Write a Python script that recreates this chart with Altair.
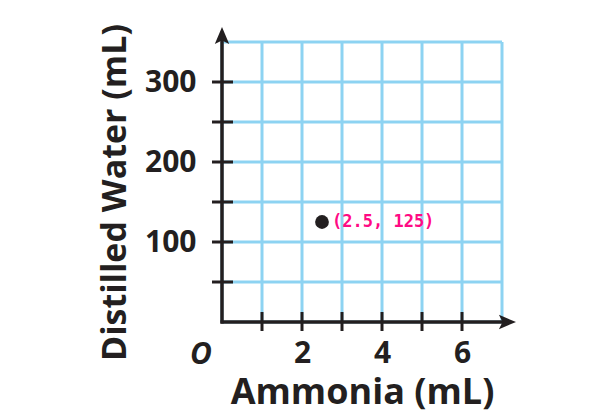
import altair as alt
import pandas as pd

# ---- data ----
grid_x = [0, 1, 2, 3, 4, 5, 6, 7]
grid_y = [0, 50, 100, 150, 200, 250, 300, 350]
tick_x = [1, 2, 3, 4, 5, 6]
tick_y = [50, 100, 150, 200, 250, 300]
label_x = [2, 4, 6]
label_y = [100, 200, 300]
point_x = [2.5]
point_y = [125]
point_label = ["(2.5, 125)"]

FONT = "Open Sans"
INK = "#231f20"
GRID = "#8dd3f2"
PINK = "#ff0a84"

xs = alt.Scale(domain=[0, 7], nice=False, zero=False)
ys = alt.Scale(domain=[0, 350], nice=False, zero=False)

x_axis = alt.Axis(
    values=label_x, grid=False, ticks=False, domain=False,
    labelFont=FONT, labelFontWeight="bold", labelFontSize=30, labelColor=INK,
    labelPadding=16, title="Ammonia (mL)", titleFont=FONT, titleFontWeight="bold",
    titleFontSize=36, titleColor=INK, titlePadding=7, labelFlush=False,
)
y_axis = alt.Axis(
    values=label_y, grid=False, ticks=False, domain=False,
    labelFont=FONT, labelFontWeight="bold", labelFontSize=30, labelColor=INK,
    labelPadding=26, title="Distilled Water (mL)", titleFont=FONT,
    titleFontWeight="bold", titleFontSize=34, titleColor=INK, titlePadding=12,
    titleY=150, labelFlush=False,
)

gx = pd.DataFrame({"gx": grid_x})
gy = pd.DataFrame({"gy": grid_y})
tx = pd.DataFrame({"tx": tick_x})
ty = pd.DataFrame({"ty": tick_y})
pts = pd.DataFrame({"x": point_x, "y": point_y, "label": point_label})

base_axes = alt.Chart(pts).mark_point(opacity=0).encode(
    x=alt.X("x:Q", scale=xs, axis=x_axis),
    y=alt.Y("y:Q", scale=ys, axis=y_axis),
)

vgrid = alt.Chart(gx).mark_rule(color=GRID, strokeWidth=3).encode(
    x=alt.X("gx:Q", scale=xs))
hgrid = alt.Chart(gy).mark_rule(color=GRID, strokeWidth=3).encode(
    y=alt.Y("gy:Q", scale=ys))

xline = alt.Chart(pts).mark_rule(color=INK, strokeWidth=3.5).encode(
    x=alt.value(-1.5), x2=alt.value(286), y=alt.value(280))
yline = alt.Chart(pts).mark_rule(color=INK, strokeWidth=3.5).encode(
    x=alt.value(0), y=alt.value(281.5), y2=alt.value(-6))

xt = alt.Chart(tx).mark_rule(color=INK, strokeWidth=3).encode(
    x=alt.X("tx:Q", scale=xs), y=alt.value(270), y2=alt.value(289))
yt = alt.Chart(ty).mark_rule(color=INK, strokeWidth=3).encode(
    y=alt.Y("ty:Q", scale=ys), x=alt.value(-10), x2=alt.value(11))

ARROW = "M0,-1L0.8,0.9L0,0.5L-0.8,0.9Z"
yarrow = alt.Chart(pts).mark_point(
    shape=ARROW, filled=True, color=INK, opacity=1, size=324, strokeWidth=0
).encode(x=alt.value(0), y=alt.value(-6))
xarrow = alt.Chart(pts).mark_point(
    shape=ARROW, filled=True, color=INK, opacity=1, size=324, strokeWidth=0,
    angle=90
).encode(x=alt.value(285), y=alt.value(280))

origin = alt.Chart(pts).mark_text(
    text="O", font=FONT, fontSize=30, fontWeight="bold", fontStyle="italic",
    color=INK, align="center", baseline="middle"
).encode(x=alt.value(-21), y=alt.value(313))

dot = alt.Chart(pts).mark_circle(size=190, color=INK, opacity=1).encode(
    x=alt.X("x:Q", scale=xs), y=alt.Y("y:Q", scale=ys))
lbl = alt.Chart(pts).mark_text(
    font="DejaVu Sans Mono", fontSize=17, fontWeight="bold", color=PINK,
    align="left", baseline="middle", dx=10
).encode(x=alt.X("x:Q", scale=xs), y=alt.Y("y:Q", scale=ys), text="label:N")

chart = alt.layer(
    base_axes, vgrid, hgrid, xt, yt, xline, yline, yarrow, xarrow, origin, dot, lbl
).properties(
    width=280, height=280,
    padding={"left": 214, "top": 34, "right": 90, "bottom": 95},
    autosize=alt.AutoSizeParams(type="none"),
).configure_view(stroke=None).configure(background="white")

chart.save("out.html", embed_options={"renderer": "svg", "actions": False})
